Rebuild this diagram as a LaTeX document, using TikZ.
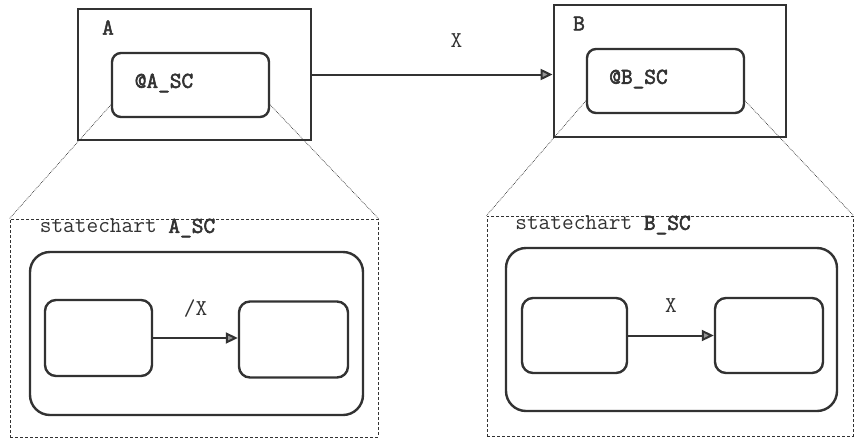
\documentclass[tikz,border=0pt]{standalone}
\usepackage{fontspec}
\setmonofont{Latin Modern Mono}[AutoFakeBold=2.5]
\usepackage{xcolor}
\usetikzlibrary{arrows.meta,positioning}
\definecolor{scanink}{RGB}{50,50,50}
\definecolor{scanfill}{RGB}{150,150,150}
\tikzset{
  blockbox/.style={
    rectangle,
    draw=scanink,
    line width=2.8pt,
    inner sep=0pt
  },
  portbox/.style={
    rectangle,
    rounded corners=9pt,
    draw=scanink,
    line width=2.4pt,
    inner sep=0pt
  },
  chartframe/.style={
    rectangle,
    draw=scanink,
    densely dashed,
    line width=0.9pt,
    inner sep=0pt
  },
  regionbox/.style={
    rectangle,
    rounded corners=20pt,
    draw=scanink,
    line width=2.4pt,
    inner sep=0pt
  },
  statebox/.style={
    rectangle,
    rounded corners=11pt,
    draw=scanink,
    line width=2.4pt,
    inner sep=0pt,
    minimum width=107pt,
    minimum height=76pt
  },
  zoomline/.style={
    draw=scanink,
    densely dotted,
    line width=0.7pt
  },
  msgarrow/.style={
    -{Triangle[length=12pt,width=11pt,fill=scanfill]},
    line width=2pt,
    draw=scanink
  },
  tag/.style={
    inner sep=0pt,
    text=scanink,
    font=\fontsize{22.7}{26}\selectfont\ttfamily
  },
  boldtag/.style={
    tag,
    font=\fontsize{22.7}{26}\selectfont\ttfamily\bfseries
  }
}
\begin{document}
\begin{tikzpicture}[x=1pt,y=-1pt]
\useasboundingbox (0,0) rectangle (855,440);

% upper blocks
\node[blockbox, minimum width=233pt, minimum height=131pt] (A) at (194.5,74.5) {};
\node[portbox, minimum width=157pt, minimum height=64pt] (ASC) at (190.5,85) {};
\node[blockbox, minimum width=232pt, minimum height=132pt] (B) at (670,71) {};
\node[portbox, minimum width=157pt, minimum height=64pt] (BSC) at (665.5,81) {};
\node[boldtag] (labA) at (108,27.5) {A};
\node[boldtag] (labASC) at (164,83) {@A\_SC};
\node[boldtag] (labB) at (579,23.5) {B};
\node[boldtag] (labBSC) at (638.5,79) {@B\_SC};

\draw[msgarrow] (A.east) -- (A.east -| B.west) node[tag, pos=0.6, above=26pt] (msgX) {X};

% statechart frames
\node[chartframe, minimum width=368pt, minimum height=218pt] (frameA) at (194,328) {};
\node[chartframe, minimum width=366pt, minimum height=220pt] (frameB) at (670,326) {};
\node[tag] (titleA) at (127.5,228) {statechart \textbf{A\_SC}};
\node[tag] (titleB) at (603,225) {statechart \textbf{B\_SC}};

\draw[zoomline] (ASC.194) -- (frameA.north west);
\draw[zoomline] (ASC.-14) -- (frameA.north east);
\draw[zoomline] (BSC.194) -- (frameB.north west);
\draw[zoomline] (BSC.-14) -- (frameB.north east);

% statechart A_SC
\node[regionbox, minimum width=333pt, minimum height=163pt] (regA) at (196.5,333.5) {};
\node[statebox] (a1) at (98.5,338) {};
\node[statebox, minimum width=109pt] (a2) at (293.5,339.5) {};
\draw[msgarrow] (a1.east) -- (a1.east -| a2.west) node[tag, midway, above=20pt] (lblA) {/X};

% statechart B_SC
\node[regionbox, minimum width=331pt, minimum height=163pt] (regB) at (671.5,329.5) {};
\node[statebox, minimum width=105pt, minimum height=75pt] (b1) at (574.5,335.5) {};
\node[statebox, minimum width=108pt, minimum height=75pt] (b2) at (769,335.5) {};
\draw[msgarrow] (b1.east) -- (b1.east -| b2.west) node[tag, midway, above=22pt] (lblB) {X};
\end{tikzpicture}
\end{document}
